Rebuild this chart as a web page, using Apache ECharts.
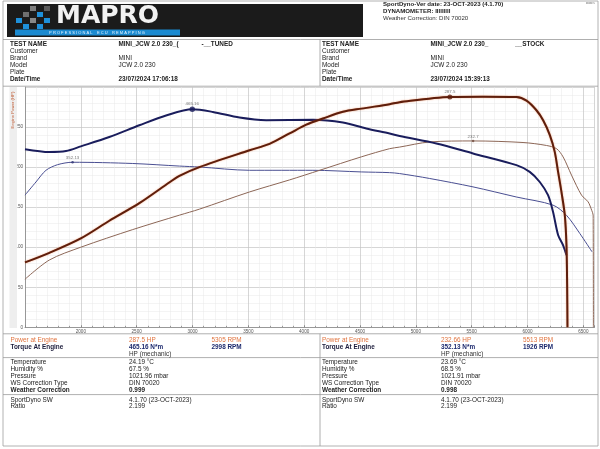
<!DOCTYPE html>
<html><head><meta charset="utf-8">
<script src="https://cdn.jsdelivr.net/npm/echarts@6/dist/echarts.min.js"></script>
<style>html,body{margin:0;padding:0;background:#fff}#c{width:600px;height:449px}</style>
</head><body><div id="c"></div>
<script>
// ---------- DATA ----------
const tunedPowerRpm = [1500,1718,2000,2255,2524,2763,2883,3062,3511,3690,3869,4019,4168,4347,4512,4765,4855,5305,5600,5901,5991,6080,6140,6200,6244,6274,6304,6334,6349,6355,6358];
const tunedPowerHp  = [81,93,111,133,155,178,189,200,221,229,242,253,260.6,269,273,278.5,281,287.5,287.8,287.5,283,271,258.5,240,219,194,169,140,102.6,52.7,0];

const stockPowerRpm = [1500,1718,2000,2465,2883,3062,3511,3869,4138,4512,4765,4855,5124,5513,5960,6170,6260,6319,6394,6484,6543,6575,6588,6590];
const stockPowerHp  = [60,84,100,122,140,147.5,169,184,196,212.8,223,225,231.4,232.66,230.7,227,223,212.7,190,165,156.6,146,140,0];

const tunedTorqueRpm = [1500,1718,1867,2000,2255,2524,2763,2998,3182,3421,3660,4078,4347,4556,4765,4855,5184,5512,5901,6020,6110,6184,6229,6274,6319,6349];
const tunedTorqueNm  = [380,374,376,386,406,431,452,465.16,459.5,447.5,442,443,437,424,413.5,408,392,371,346,331.6,310,282,246,197,175,154];

const stockTorqueRpm = [1500,1598,1688,1792,1926,2465,2883,3062,3511,4078,4512,4765,4855,5124,5512,5901,6229,6349,6469,6578];
const stockTorqueNm  = [282,310,335,347,352.13,349.5,344,342,335,335,331.5,330,328,317.5,299.6,278,260.6,239,200,161];

const peakRpm   = [5305, 5513, 2998, 1926];
const peakValue = [287.5, 232.66, 465.16, 352.13];
const peakText  = ['287.5', '232.7', '465.16', '352.13'];

const rpmMin = 1500, rpmMax = 6600, rpmStep = 500;
const hpMax = 300, hpStep = 50;
const torqueAxisMax = 512.7;

const headerLines = ['SportDyno-Ver date: 23-OCT-2023 (4.1.70)', 'DYNAMOMETER: IIIIIIIII', 'Weather Correction: DIN 70020'];
const infoLabels = ['TEST NAME','Customer','Brand','Model','Plate','Date/Time'];
const infoTuned  = ['MINI_JCW 2.0 230_(             -__TUNED','','MINI','JCW 2.0 230','','23/07/2024 17:06:18'];
const infoStock  = ['MINI_JCW 2.0 230_               __STOCK','','MINI','JCW 2.0 230','','23/07/2024 15:39:13'];

const resLabels = ['Power at Engine','Torque At Engine'];
const resTuned = [['287.5 HP','5305 RPM'],['465.16 N*m','2998 RPM']];
const resStock = [['232.66 HP','5513 RPM'],['352.13 N*m','1926 RPM']];
const envLabels = ['Temperature','Humidity %','Pressure','WS Correction Type','Weather Correction'];
const envTuned  = ['24.19 °C','67.5 %','1021.96 mbar','DIN 70020','0.999'];
const envStock  = ['23.69 °C','68.5 %','1021.91 mbar','DIN 70020','0.998'];
const swLabels = ['SportDyno SW','Ratio'];
const swTuned  = ['4.1.70 (23-OCT-2023)','2.199'];
const swStock  = ['4.1.70 (23-OCT-2023)','2.199'];

// ---------- HELPERS ----------
const zip = (a,b) => a.map((v,i)=>[v,b[i]]);
const FF = '"Liberation Sans", Arial, sans-serif';
const G = [];
function T(x,y,text,o){o=o||{};G.push({type:'text',z:100,x:x,y:y,rotation:o.rot||0,style:{text:text,fill:o.c||'#222',fontSize:o.s||6.4,fontWeight:o.b?'bold':'normal',fontFamily:o.f||FF,align:o.a||'left',verticalAlign:o.v||'middle'}});}
function L(x1,y1,x2,y2,c,w){G.push({type:'line',z:90,shape:{x1:x1,y1:y1,x2:x2,y2:y2},style:{stroke:c||'#9a9a9a',lineWidth:w||0.8}});}
function R(x,y,w,h,fill,stroke){G.push({type:'rect',z:80,shape:{x:x,y:y,width:w,height:h},style:{fill:fill||'none',stroke:stroke||null,lineWidth:0.8}});}

// page frame
R(3,1,595,445,'none','#a0a0a0');
// logo
R(7,4,356,33,'#1b1b1b');
const sq = [[30,6,'#7d7d7d'],[44,6,'#5a5a5a'],[23,12,'#6f6f6f'],[37,12,'#1e90da'],[16,18,'#1e90da'],[30,18,'#888'],[44,18,'#1e90da'],[23,24,'#1e90da'],[37,24,'#1e90da']];
sq.forEach(s=>R(s[0],s[1],6,5,s[2]));
T(56,16.5,'MAPRO',{c:'#f2f2f2',s:25,b:true,f:'"DejaVu Sans", sans-serif',v:'middle'});
R(15,29.5,165,6,'#1b8ad0');
T(97,32.6,'P R O F E S S I O N A L    E C U    R E M A P P I N G',{c:'#e8f4ff',s:4,a:'center'});
// right header
T(383,4.8,headerLines[0],{b:true,s:6.1});
T(383,11,headerLines[1],{b:true,s:6.1});
T(383,18.5,headerLines[2],{s:6.1,c:'#333'});
T(586,3.5,'www.s',{s:3,c:'#666'});
// header table
L(3,39.5,598,39.5);
L(320,39.5,320,86);
const rowY = [44.3,51.3,58.3,65.3,72.3,79.3];
infoLabels.forEach((t,i)=>{
  const b = (i===0||i===5);
  T(10,rowY[i],t,{b:b});
  T(118.5,rowY[i],infoTuned[i],{b:b});
  T(322,rowY[i],t,{b:b});
  T(430.5,rowY[i],infoStock[i],{b:b});
});
L(3,86.2,598,86.2);
// axis title band
R(9.5,87,7.5,241,'#eeeeee');
T(13.3,110,'Engine Power (HP)',{s:4.3,c:'#c0603a',a:'center',rot:Math.PI/2});
// results table
L(3,333.8,598,333.8);
L(320,333.8,320,446);
const orange='#e0743f', navy='#1d2a6e';
[[10.5,129,211.5,resTuned],[322,441,523,resStock]].forEach(col=>{
  const [lx,vx,rx,res]=col;
  T(lx,340,resLabels[0],{c:orange});
  T(vx,340,res[0][0],{c:orange});
  T(rx,340,res[0][1],{c:orange});
  T(lx,346.8,resLabels[1],{b:true,c:'#1b1b3a'});
  T(vx,346.8,res[1][0],{b:true,c:navy});
  T(rx,346.8,res[1][1],{b:true,c:navy});
  T(vx,354,'HP (mechanic)',{c:'#333'});
});
L(3,357.6,598,357.6);
const envY=[362.4,369.4,376.4,383.6,390.7];
envLabels.forEach((t,i)=>{
  const b=(i===4);
  T(10.5,envY[i],t,{b:b}); T(129,envY[i],envTuned[i],{b:b});
  T(322,envY[i],t,{b:b}); T(441,envY[i],envStock[i],{b:b});
});
L(3,394.6,598,394.6);
const swY=[399.8,406.6];
swLabels.forEach((t,i)=>{
  T(10.5,swY[i],t); T(129,swY[i],swTuned[i]);
  T(322,swY[i],t); T(441,swY[i],swStock[i]);
});

// ---------- CHART ----------
const chart = echarts.init(document.getElementById('c'),null,{renderer:'canvas'});
const lineBase = {type:'line',showSymbol:false,smooth:0.3,animation:false};
chart.setOption({
  backgroundColor:'#ffffff',
  animation:false,
  grid:{left:25,top:87,width:569.5,height:240.3,containLabel:false},
  xAxis:{type:'value',min:rpmMin,max:rpmMax,interval:rpmStep,
    axisLine:{show:true,onZero:false,lineStyle:{color:'#888',width:0.8}},
    axisTick:{show:true,length:2,inside:true,lineStyle:{color:'#888'}},
    minorTick:{show:true,splitNumber:5,length:1.5,lineStyle:{color:'#999'}},
    axisLabel:{fontSize:4.6,color:'#555',margin:2,fontFamily:FF,showMaxLabel:false,formatter:v=>v===rpmMin?'':String(v)},
    splitLine:{show:true,lineStyle:{color:'#c4c4c4',width:0.7}},
    minorSplitLine:{show:true,lineStyle:{color:'#e9e9e9',width:0.5}}},
  yAxis:[{type:'value',min:0,max:hpMax,interval:hpStep,
    axisLine:{show:true,lineStyle:{color:'#888',width:0.8}},
    axisTick:{show:false},
    minorTick:{show:false,splitNumber:5},
    axisLabel:{fontSize:4.6,color:'#555',margin:2,fontFamily:FF,showMaxLabel:false},
    splitLine:{show:true,lineStyle:{color:'#c4c4c4',width:0.7}},
    minorSplitLine:{show:true,lineStyle:{color:'#e9e9e9',width:0.5}}},
   {type:'value',min:0,max:torqueAxisMax,show:false,splitLine:{show:false}}],
  series:[
    Object.assign({},lineBase,{name:'Stock torque',yAxisIndex:1,data:zip(stockTorqueRpm,stockTorqueNm),lineStyle:{color:'#4a4f92',width:1},z:2}),
    Object.assign({},lineBase,{name:'Stock power',yAxisIndex:0,data:zip(stockPowerRpm,stockPowerHp),lineStyle:{color:'#8c6656',width:1},z:2}),
    Object.assign({},lineBase,{name:'Tuned torque',yAxisIndex:1,data:zip(tunedTorqueRpm,tunedTorqueNm),lineStyle:{color:'#1a1d5c',width:2},z:3}),
    Object.assign({},lineBase,{name:'Tuned power',yAxisIndex:0,data:zip(tunedPowerRpm,tunedPowerHp),lineStyle:{color:'#5e1e0c',width:2,shadowColor:'rgba(230,110,50,0.7)',shadowBlur:1.5},z:4}),
    {type:'scatter',yAxisIndex:0,z:6,animation:false,symbolSize:5,itemStyle:{color:'#5e1e0c'},
      data:[[peakRpm[0],peakValue[0]]],label:{show:true,position:'top',distance:1,fontSize:4.4,color:'#555',formatter:()=>peakText[0]}},
    {type:'scatter',yAxisIndex:0,z:6,animation:false,symbolSize:2.5,itemStyle:{color:'#6e4a3c'},
      data:[[peakRpm[1],peakValue[1]]],label:{show:true,position:'top',distance:1,fontSize:4.4,color:'#555',formatter:()=>peakText[1]}},
    {type:'scatter',yAxisIndex:1,z:6,animation:false,symbolSize:5.5,itemStyle:{color:'#1a1d5c'},
      data:[[peakRpm[2],peakValue[2]]],label:{show:true,position:'top',distance:1,fontSize:4.4,color:'#555',formatter:()=>peakText[2]}},
    {type:'scatter',yAxisIndex:1,z:6,animation:false,symbolSize:2.5,itemStyle:{color:'#2a2f70'},
      data:[[peakRpm[3],peakValue[3]]],label:{show:true,position:'top',distance:1,fontSize:4.4,color:'#555',formatter:()=>peakText[3]}}
  ],
  graphic:{elements:G}
});
</script></body></html>
